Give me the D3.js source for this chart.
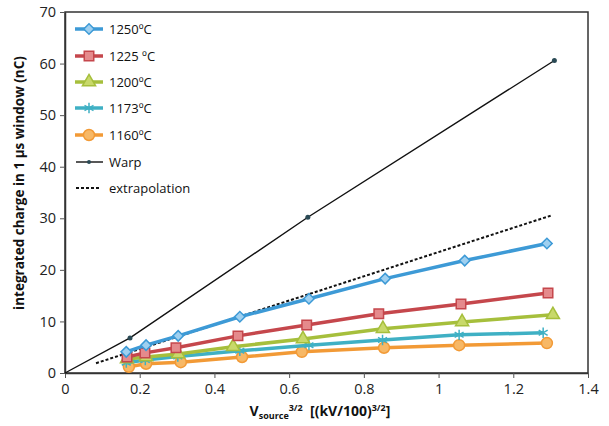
<!DOCTYPE html>
<html><head><meta charset="utf-8">
<script src="https://cdn.jsdelivr.net/npm/d3@7"></script>
<style>body{margin:0;background:#fff}svg{display:block}text{font-family:"Open Sans","Noto Sans",sans-serif}</style>
</head><body><svg id="c" width="609" height="426"></svg>
<script>
const xTicks=[0,0.2,0.4,0.6,0.8,1,1.2,1.4];
const yTicks=[0,10,20,30,40,50,60,70];
const s1250=[[0.164,4.1],[0.217,5.4],[0.303,7.2],[0.468,10.9],[0.653,14.4],[0.857,18.3],[1.07,21.8],[1.29,25.1]];
const s1225=[[0.166,3.1],[0.214,3.9],[0.297,4.9],[0.463,7.2],[0.647,9.3],[0.84,11.5],[1.06,13.4],[1.293,15.5]];
const s1200=[[0.166,2.7],[0.217,3.1],[0.303,3.7],[0.45,5.1],[0.637,6.6],[0.851,8.6],[1.063,9.9],[1.306,11.3]];
const s1173=[[0.164,2.0],[0.215,2.5],[0.302,3.2],[0.468,4.3],[0.653,5.4],[0.85,6.4],[1.055,7.4],[1.28,7.8]];
const s1160=[[0.171,1.2],[0.217,1.8],[0.31,2.1],[0.474,3.1],[0.634,4.1],[0.854,4.9],[1.055,5.4],[1.29,5.8]];
const warp=[[0,0],[0.174,6.8],[0.65,30.2],[1.31,60.6]];
const extrap=[[0.083,1.9],[1.30,30.5]];
const seriesNames=["1250ºC","1225 ºC","1200ºC","1173ºC","1160ºC"];

const svg=d3.select("#c");
const L=65,R=588,T=12,B=373;
const x=d3.scaleLinear().domain([0,1.4]).range([L,R]);
const y=d3.scaleLinear().domain([0,70]).range([B,T]);

svg.append("rect").attr("x",L).attr("y",T).attr("width",R-L).attr("height",B-T)
  .attr("fill","none").attr("stroke","#333").attr("stroke-width",1.5);

const xa=svg.append("g").attr("transform",`translate(0,${B})`)
  .call(d3.axisBottom(x).tickValues(xTicks).tickFormat(d3.format("~g")).tickSize(5).tickSizeOuter(0));
const ya=svg.append("g").attr("transform",`translate(${L},0)`)
  .call(d3.axisLeft(y).tickValues(yTicks).tickSize(5).tickSizeOuter(0));
[xa,ya].forEach(a=>{a.selectAll("path").attr("stroke","#333").attr("stroke-width",1.5);
  a.selectAll("line").attr("stroke","#555");
  a.selectAll("text").attr("font-size",14.5).attr("fill","#222");});
xa.selectAll("text").attr("dy",null).attr("y",21);
ya.selectAll("text").attr("x",-9);

const line=d3.line().x(d=>x(d[0])).y(d=>y(d[1]));

const styles=[
 {data:s1250,c:"#3d9ad6",f:"#9fd0f0",m:"diamond"},
 {data:s1225,c:"#c5474c",f:"#e58a8c",m:"square"},
 {data:s1200,c:"#a6bf3c",f:"#c8d96a",m:"triangle"},
 {data:s1173,c:"#3fb0c4",f:"#8fd6e2",m:"asterisk"},
 {data:s1160,c:"#f29a36",f:"#f7b866",m:"circle"}
];
const symMap={diamond:d3.symbolSquare,square:d3.symbolSquare,triangle:d3.symbolTriangle,circle:d3.symbolCircle,asterisk:d3.symbolAsterisk};
const sizeMap={diamond:55,square:90,triangle:75,circle:95,asterisk:75};

function marker(g,m,c,f,px,py){
  const rot=m==="diamond"?" rotate(45)":"";
  const p=g.append("path").attr("d",d3.symbol(symMap[m],sizeMap[m])()).attr("transform",`translate(${px},${py})${rot}`);
  if(m==="asterisk") p.attr("fill","none").attr("stroke",c).attr("stroke-width",1.5);
  else p.attr("fill",f).attr("stroke",c).attr("stroke-width",1.5);
}

svg.append("path").datum(extrap).attr("d",line).attr("fill","none").attr("stroke","#111").attr("stroke-width",2).attr("stroke-dasharray","3,2");
svg.append("path").datum(warp).attr("d",line).attr("fill","none").attr("stroke","#111").attr("stroke-width",1.4);
svg.selectAll(".wd").data(warp.slice(1)).join("circle").attr("cx",d=>x(d[0])).attr("cy",d=>y(d[1])).attr("r",2.5).attr("fill","#2a4a55");

styles.slice().reverse().forEach(s=>{
  const g=svg.append("g");
  g.append("path").datum(s.data).attr("d",line).attr("fill","none").attr("stroke",s.c).attr("stroke-width",3.5).attr("stroke-linejoin","round");
  s.data.forEach(d=>marker(g,s.m,s.c,s.f,x(d[0]),y(d[1])));
});

const lg=svg.append("g");
const rows=[29,56,82,108,135,162,188];
styles.forEach((s,i)=>{
  lg.append("line").attr("x1",75).attr("x2",103).attr("y1",rows[i]).attr("y2",rows[i]).attr("stroke",s.c).attr("stroke-width",3.5);
  marker(lg,s.m,s.c,s.f,89,rows[i]);
  lg.append("text").attr("x",109).attr("y",rows[i]+5).attr("font-size",13).attr("fill","#111").text(seriesNames[i]);
});
lg.append("line").attr("x1",76).attr("x2",103).attr("y1",rows[5]).attr("y2",rows[5]).attr("stroke","#111").attr("stroke-width",1.4);
lg.append("circle").attr("cx",89).attr("cy",rows[5]).attr("r",2).attr("fill","#2a4a55");
lg.append("text").attr("x",109).attr("y",rows[5]+5).attr("font-size",13).attr("fill","#111").text("Warp");
lg.append("line").attr("x1",76).attr("x2",100).attr("y1",rows[6]).attr("y2",rows[6]).attr("stroke","#111").attr("stroke-width",2).attr("stroke-dasharray","3,2");
lg.append("text").attr("x",109).attr("y",rows[6]+5).attr("font-size",13).attr("fill","#111").text("extrapolation");

svg.append("text").attr("transform","translate(24,183) rotate(-90)").attr("text-anchor","middle")
  .attr("font-size",13.5).attr("font-weight","bold").attr("fill","#111").text("integrated charge in 1 μs window (nC)");
const xt=svg.append("text").attr("x",320).attr("y",416).attr("text-anchor","middle").attr("font-size",14).attr("font-weight","bold").attr("fill","#111");
xt.append("tspan").text("V");
xt.append("tspan").attr("font-size",9).attr("dy",3).text("source");
xt.append("tspan").attr("font-size",9).attr("dy",-8).text("3/2");
xt.append("tspan").attr("dy",5).text("\u00a0\u00a0[(kV/100)");
xt.append("tspan").attr("font-size",9).attr("dy",-5).text("3/2");
xt.append("tspan").attr("dy",5).text("]");
</script></body></html>
